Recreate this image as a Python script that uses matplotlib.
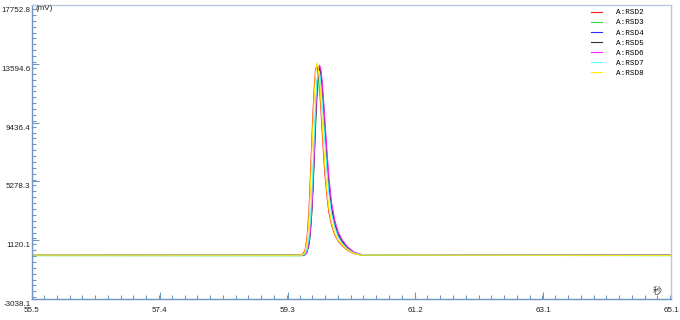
import matplotlib.pyplot as plt
from matplotlib.ticker import MultipleLocator, FixedLocator
from matplotlib.transforms import ScaledTranslation

plt.rcParams['font.family'] = ['Liberation Sans', 'DejaVu Sans']

# время (ось X) - общая сетка для всех кривых
t = [55.5, 59.50, 59.56, 59.60, 59.63, 59.66, 59.68, 59.70, 59.72, 59.74, 59.76,
     59.78, 59.80, 59.82, 59.84, 59.86, 59.88, 59.90, 59.93, 59.96, 60.00,
     60.05, 60.10, 60.16, 60.24, 60.34, 60.45, 65.1]

# сигнал, mV
rsd2 = [80, 70, 110, 380, 1200, 3100, 5300, 7700, 10000, 11900, 13200, 13500, 13000, 11900,
        10400, 8800, 7200, 5850, 4300, 3100, 2200, 1500, 1050, 740, 400, 160, 70, 60]
rsd3 = [30, 20, 25, 80, 260, 760, 1500, 2800, 4500, 6800, 9100, 11000, 12200, 12700,
        12400, 11500, 10200, 8800, 6700, 4900, 3300, 2150, 1450, 950, 520, 200, 60, 30]
rsd4 = [90, 60, 60, 120, 350, 1000, 1900, 3300, 5200, 7600, 10000, 12000, 13200, 13450,
        12900, 11800, 10400, 8900, 6800, 5000, 3400, 2200, 1500, 1000, 560, 230, 90, 60]
rsd5 = [80, 60, 55, 100, 280, 800, 1600, 2900, 4700, 7000, 9500, 11600, 12900, 13300,
        13000, 12000, 10700, 9200, 7100, 5200, 3500, 2300, 1550, 1050, 600, 240, 90, 60]
rsd6 = [90, 60, 55, 100, 300, 850, 1700, 3000, 4900, 7300, 9900, 12000, 13200, 13500,
        13200, 12300, 11000, 9600, 7500, 5600, 3800, 2500, 1700, 1150, 650, 270, 100, 60]
rsd7 = [70, 60, 65, 150, 450, 1300, 2400, 4000, 6100, 8500, 10800, 12400, 13100, 12900,
        12100, 10900, 9500, 8100, 6100, 4400, 3000, 2000, 1350, 900, 500, 200, 80, 55]
rsd8 = [70, 60, 80, 280, 950, 2550, 4550, 6950, 9250, 11300, 12900, 13650, 13350, 12400,
        11000, 9450, 7800, 6350, 4650, 3350, 2350, 1600, 1100, 800, 430, 170, 70, 50]

names = ['A:RSD2', 'A:RSD3', 'A:RSD4', 'A:RSD5', 'A:RSD6', 'A:RSD7', 'A:RSD8']
series = [rsd2, rsd3, rsd4, rsd5, rsd6, rsd7, rsd8]
colors = ['#ff1a1a', '#33dd33', '#2a2aff', '#303030', '#ff22ff', '#55ffff', '#ffee00']

xticks = [55.5, 57.42, 59.34, 61.26, 63.18, 65.1]
xlabels = ['55.5', '57.4', '59.3', '61.2', '63.1', '65.1']
yticks = [-3038.1, 1120.1, 5278.3, 9436.4, 13594.6, 17752.8]
ylabels = ['-3038.1', '1120.1', '5278.3', '9436.4', '13594.6', '17752.8']

axcol = '#7096c0'
lightcol = '#b8c9dd'

fig = plt.figure(figsize=(6.8, 3.2), dpi=100)
ax = fig.add_axes([32/680, 21/320, 639/680, 294/320])

for s, c, n in zip(series, colors, names):
    ax.plot(t, s, color=c, linewidth=0.8, label=n)

ax.set_xlim(55.5, 65.1)
ax.set_ylim(-3038.1, 17752.8)

ax.xaxis.set_major_locator(FixedLocator(xticks))
ax.set_xticklabels(xlabels)
ax.xaxis.set_minor_locator(MultipleLocator(0.192))
ax.yaxis.set_major_locator(FixedLocator(yticks))
ax.set_yticklabels(ylabels)
ax.yaxis.set_minor_locator(MultipleLocator(415.818))

ax.tick_params(which='both', direction='in', color=axcol, labelsize=5.8, labelcolor='#222222')
ax.tick_params(which='major', length=5, width=0.8)
ax.tick_params(which='minor', length=3, width=0.8)
ax.tick_params(axis='x', pad=6)
ax.tick_params(axis='y', pad=1)

# подписи Y чуть ниже делений
off = ScaledTranslation(0, -0.045, fig.dpi_scale_trans)
for lab in ax.get_yticklabels():
    lab.set_transform(lab.get_transform() + off)

for side in ['left', 'bottom']:
    ax.spines[side].set_color(axcol)
    ax.spines[side].set_linewidth(1.0)
for side in ['right', 'top']:
    ax.spines[side].set_color(lightcol)
    ax.spines[side].set_linewidth(1.0)

fig.text(35/680, 1 - 9/320, '(mV)', fontsize=5.8, va='center', ha='left', color='#222222')
ax.text(0.978, 0.024, '秒', transform=ax.transAxes, fontsize=6.5, ha='center', va='center',
        family=['Noto Sans CJK SC', 'DejaVu Sans'], color='#333333')

leg = ax.legend(loc='upper left', bbox_to_anchor=(591/680, 1 - 9/320), bbox_transform=fig.transFigure,
                frameon=False, prop={'family': 'Liberation Mono', 'size': 5.5},
                handlelength=1.4, handletextpad=1.9, labelspacing=0.36, borderpad=0, borderaxespad=0)

fig.savefig('out.png', dpi=100)
